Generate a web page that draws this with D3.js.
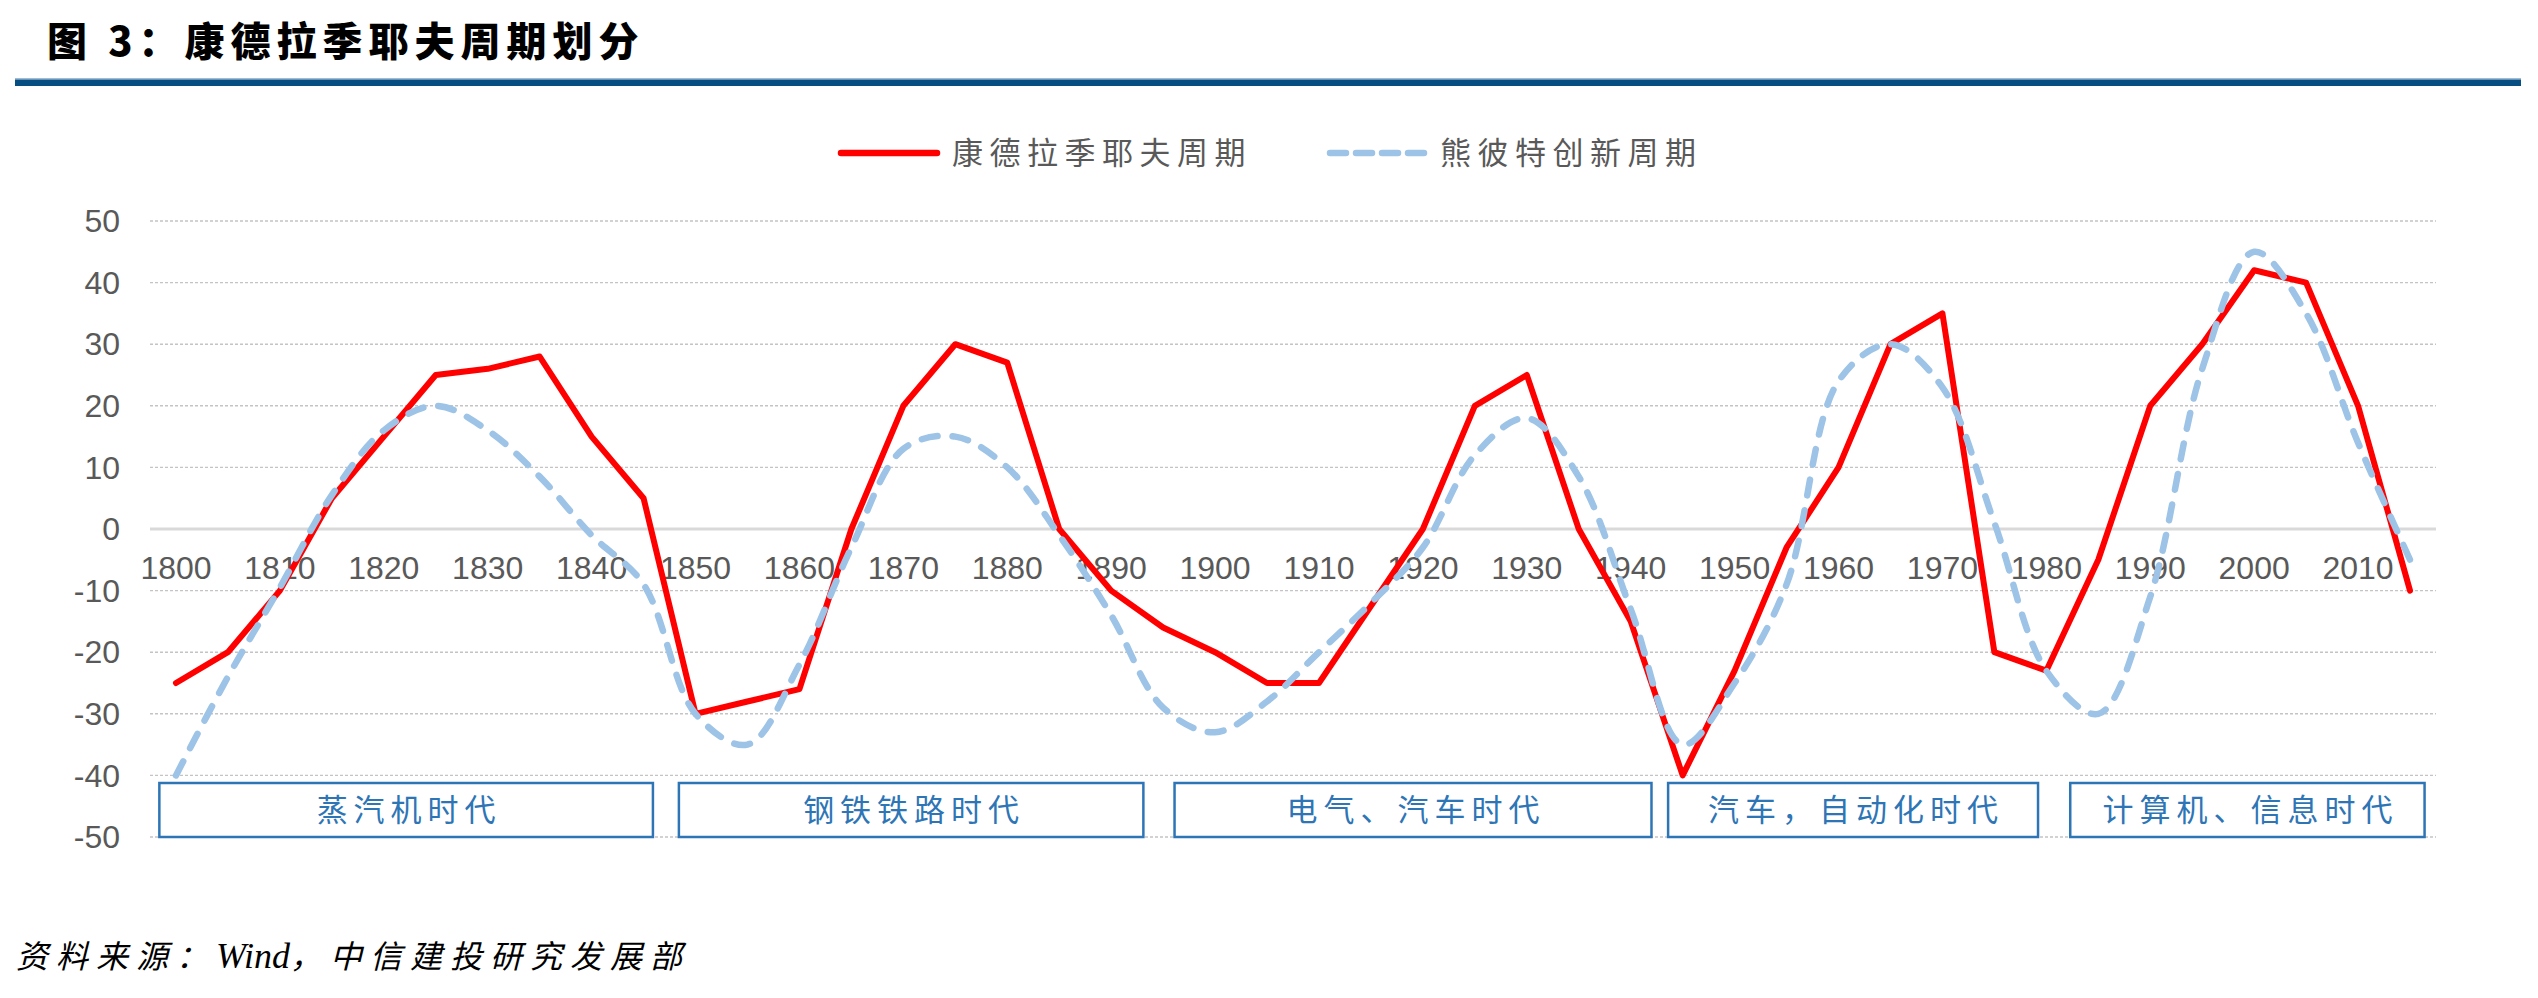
<!DOCTYPE html>
<html>
<head>
<meta charset="utf-8">
<script src="https://cdn.jsdelivr.net/npm/d3@7"></script>
<style>
  html, body { margin: 0; padding: 0; background: #fff; }
  svg { display: block; }
</style>
</head>
<body>
<div id="content"></div>
<script>
// chart data (5-year steps)
const years = [1800, 1805, 1810, 1815, 1820, 1825, 1830, 1835, 1840, 1845,
               1850, 1855, 1860, 1865, 1870, 1875, 1880, 1885, 1890, 1895,
               1900, 1905, 1910, 1915, 1920, 1925, 1930, 1935, 1940, 1945,
               1950, 1955, 1960, 1965, 1970, 1975, 1980, 1985, 1990, 1995,
               2000, 2005, 2010, 2015];
const kondratiev = [-25, -20, -10, 5, 15, 25, 26, 28, 15, 5,
                    -30, -28, -26, 0, 20, 30, 27, 0, -10, -16,
                    -20, -25, -25, -12.5, 0, 20, 25, 0, -15, -40,
                    -23, -3, 10, 30, 35, -20, -23, -5, 20, 30,
                    42, 40, 20, -10];
const schumpeter = [-40, -24, -9.5, 5.5, 16, 20, 16, 8.5, -1, -9,
                    -30, -35, -22, -3, 13, 15, 10, -1, -14, -29,
                    -33, -28, -20, -12, -3, 12, 18, 8.5, -13, -35,
                    -25, -9, 24, 30, 23, 1, -23, -30, -11, 26,
                    45, 35, 14, -5];
const xTickYears = [1800, 1810, 1820, 1830, 1840, 1850, 1860, 1870, 1880, 1890, 1900,
                    1910, 1920, 1930, 1940, 1950, 1960, 1970, 1980, 1990, 2000, 2010];
const yTicks = [50, 40, 30, 20, 10, 0, -10, -20, -30, -40, -50];
const seriesNames = ["康德拉季耶夫周期", "熊彼特创新周期"];
const eraNames = ["蒸汽机时代", "钢铁铁路时代", "电气、汽车时代", "汽车，自动化时代", "计算机、信息时代"];
const eraFrom = [1798.4, 1848.4, 1896.1, 1943.6, 1982.3];
const eraTo   = [1845.9, 1893.1, 1942.0, 1979.2, 2016.4];

const titleText = "图 3：康德拉季耶夫周期划分";
const sourceParts = ["资料来源：", "Wind", "，中信建投研究发展部"];

const W = 2538, H = 998;
const CJK = "'Noto Sans CJK SC', 'Noto Sans', sans-serif";
const NUM = "'Liberation Sans', Arial, sans-serif";

const svg = d3.select("#content").append("svg")
  .attr("width", W).attr("height", H);

// header
svg.append("text")
  .attr("x", 47).attr("y", 56)
  .style("font-family", CJK).style("font-size", "40px").style("font-weight", 900)
  .style("letter-spacing", "6px").style("fill", "#000")
  .text(titleText);
svg.append("rect").attr("x", 15).attr("y", 78).attr("width", 2506).attr("height", 1.5)
  .style("fill", "#9fbcd6");
svg.append("rect").attr("x", 15).attr("y", 79.5).attr("width", 2506).attr("height", 6.5)
  .style("fill", "#074e82");

// scales
const x = d3.scalePoint().domain(years).range([150, 2436]).padding(0.5);
const xYear = d3.scaleLinear().domain([years[0], years[years.length - 1]])
  .range([x(years[0]), x(years[years.length - 1])]);
const y = d3.scaleLinear().domain([-50, 50]).range([837, 221]);

// grid
const grid = svg.append("g");
grid.selectAll("line").data(yTicks.filter(d => d !== 0)).enter().append("line")
  .attr("x1", 150).attr("x2", 2436)
  .attr("y1", d => y(d)).attr("y2", d => y(d))
  .style("stroke", "#c4c4c4").style("stroke-width", 1.4).style("stroke-dasharray", "3 2");
svg.append("line")
  .attr("x1", 150).attr("x2", 2436).attr("y1", y(0)).attr("y2", y(0))
  .style("stroke", "#d9d9d9").style("stroke-width", 3);

// y labels
svg.append("g").selectAll("text").data(yTicks).enter().append("text")
  .attr("x", 120).attr("y", d => y(d)).attr("dy", "0.35em")
  .attr("text-anchor", "end")
  .style("font-family", NUM).style("font-size", "32px").style("fill", "#595959")
  .text(d => d);

// x labels, next to the 0 axis
svg.append("g").selectAll("text").data(xTickYears).enter().append("text")
  .attr("x", d => x(d)).attr("y", y(0) + 50)
  .attr("text-anchor", "middle")
  .style("font-family", NUM).style("font-size", "32px").style("fill", "#595959")
  .text(d => d);

// era boxes
const eras = eraNames.map((n, i) => ({ name: n, from: eraFrom[i], to: eraTo[i] }));
const eraG = svg.append("g").selectAll("g").data(eras).enter().append("g");
eraG.append("rect")
  .attr("x", d => xYear(d.from)).attr("width", d => xYear(d.to) - xYear(d.from))
  .attr("y", y(-50) - 54).attr("height", 54)
  .style("fill", "#fff").style("stroke", "#2e75b6").style("stroke-width", 2.5);
eraG.append("text")
  .attr("x", d => (xYear(d.from) + xYear(d.to)) / 2 + 3)
  .attr("y", y(-50) - 27).attr("dy", "0.36em")
  .attr("text-anchor", "middle")
  .style("font-family", CJK).style("font-size", "31px").style("letter-spacing", "6px")
  .style("fill", "#2e75b6")
  .text(d => d.name);

// lines
const redLine = d3.line().x((d, i) => x(years[i])).y(d => y(d));
const blueLine = d3.line().x((d, i) => x(years[i])).y(d => y(d))
  .curve(d3.curveCatmullRom.alpha(0.5));

svg.append("path").datum(kondratiev)
  .attr("d", redLine)
  .style("fill", "none").style("stroke", "#ff0000").style("stroke-width", 6)
  .style("stroke-linejoin", "round").style("stroke-linecap", "round");
svg.append("path").datum(schumpeter)
  .attr("d", blueLine)
  .style("fill", "none").style("stroke", "#9dc3e6").style("stroke-width", 6.5)
  .style("stroke-dasharray", "16 15").style("stroke-linecap", "round");

// legend
const lg = svg.append("g");
lg.append("line").attr("x1", 841).attr("x2", 937).attr("y1", 153).attr("y2", 153)
  .style("stroke", "#ff0000").style("stroke-width", 6.5).style("stroke-linecap", "round");
lg.append("text").attr("x", 952).attr("y", 153).attr("dy", "0.36em")
  .style("font-family", CJK).style("font-size", "31px").style("letter-spacing", "6.5px")
  .style("fill", "#595959").text(seriesNames[0]);
lg.append("line").attr("x1", 1330).attr("x2", 1426).attr("y1", 153).attr("y2", 153)
  .style("stroke", "#9dc3e6").style("stroke-width", 6.5).style("stroke-linecap", "round")
  .style("stroke-dasharray", "16 10");
lg.append("text").attr("x", 1440).attr("y", 153).attr("dy", "0.36em")
  .style("font-family", CJK).style("font-size", "31px").style("letter-spacing", "6.5px")
  .style("fill", "#595959").text(seriesNames[1]);

// source note
const src = svg.append("text")
  .attr("x", 16).attr("y", 968)
  .style("font-family", CJK).style("font-size", "32px").style("font-style", "italic")
  .style("fill", "#000");
src.append("tspan").style("letter-spacing", "8px").text(sourceParts[0]);
src.append("tspan").style("font-family", "'Liberation Serif', serif").style("font-size", "36px")
  .text(sourceParts[1]);
src.append("tspan").style("letter-spacing", "8px").text(sourceParts[2]);
</script>
</body>
</html>
